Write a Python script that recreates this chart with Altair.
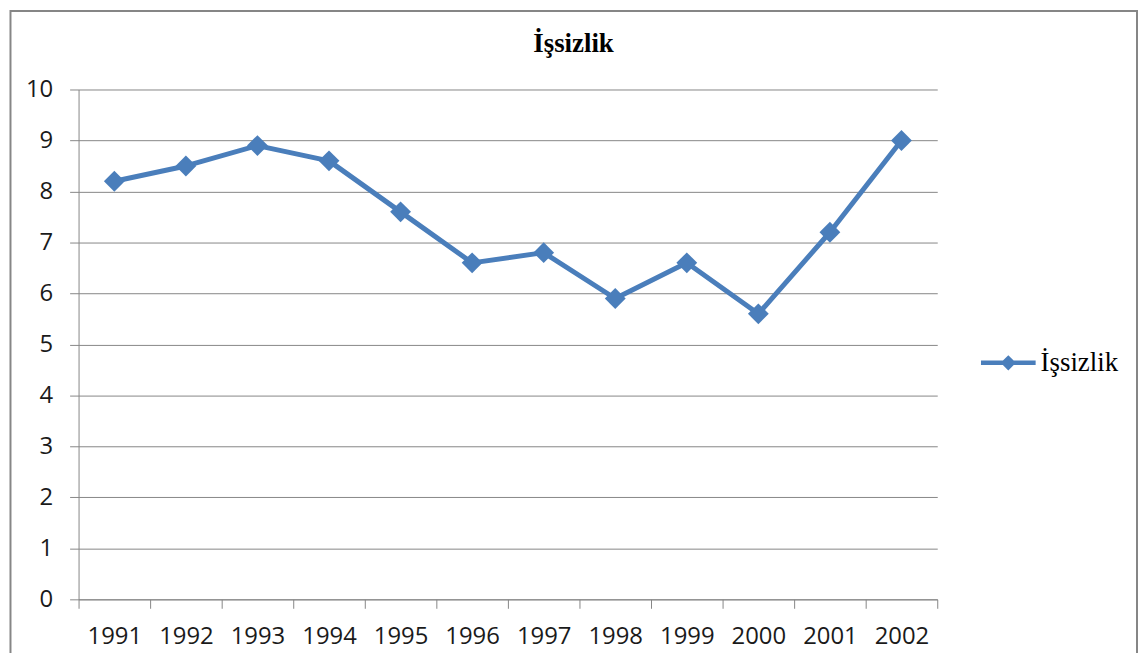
import altair as alt
import pandas as pd

years = ["1991", "1992", "1993", "1994", "1995", "1996",
         "1997", "1998", "1999", "2000", "2001", "2002"]
values = [8.2, 8.5, 8.9, 8.6, 7.6, 6.6, 6.8, 5.9, 6.6, 5.6, 7.2, 9.0]
series_name = "İşsizlik"
chart_title = "İşsizlik"
y_ticks = [0, 1, 2, 3, 4, 5, 6, 7, 8, 9, 10]

df = pd.DataFrame({"year": years, "value": values,
                   "series": [series_name] * len(years)})

BLUE = "#4A7EBB"
GREY = "#868686"
TXT = "#1a1a1a"

legend_path = ("M-1,-0.085L1,-0.085L1,0.085L-1,0.085Z "
               "M-0.28,0L0,-0.28L0.28,0L0,0.28Z")

x = alt.X("year:O", sort=years,
          scale=alt.Scale(type="band", paddingInner=0, paddingOuter=0),
          axis=alt.Axis(title=None, labelAngle=0, tickBand="extent",
                        tickSize=9, tickColor=GREY, domainColor=GREY,
                        labelPadding=16, grid=False, labelFont="Open Sans",
                        labelFontSize=24, labelColor=TXT))
y = alt.Y("value:Q",
          scale=alt.Scale(domain=[0, 10], nice=False, zero=True),
          axis=alt.Axis(title=None, values=y_ticks, tickSize=9,
                        tickColor=GREY, domainColor=GREY, grid=True,
                        gridColor=GREY, gridWidth=1, labelPadding=17,
                        labelFont="Open Sans", labelFontSize=24,
                        labelColor=TXT))

border = alt.Chart(alt.Data(values=[{"b": 1}])).mark_rect(
    fillOpacity=0, stroke=GREY, strokeWidth=2
).encode(x=alt.value(-68.5), x2=alt.value(1065),
         y=alt.value(-79), y2=alt.value(620))

base = alt.Chart(df)
line = base.mark_line(color=BLUE, strokeWidth=5, strokeJoin="round").encode(x=x, y=y)
points = base.mark_point(filled=True, shape="diamond", size=440, opacity=1,
                         color=BLUE).encode(x=x, y=y)
legend_layer = base.mark_point(filled=True, size=0, opacity=1).encode(
    x=x, y=y,
    color=alt.Color("series:N", scale=alt.Scale(range=[BLUE]),
                    legend=alt.Legend(title=None, orient="none",
                                      legendX=908, legendY=247.5,
                                      symbolType=legend_path,
                                      symbolSize=3025, symbolStrokeWidth=0,
                                      labelFont="Liberation Serif",
                                      labelFontSize=27, labelColor="black",
                                      labelOffset=5, padding=0)),
)

chart = alt.layer(border, line, points, legend_layer).properties(
    width=864, height=513,
    autosize=alt.AutoSizeParams(type="none"),
    padding={"left": 71, "top": 80, "right": 202, "bottom": 52},
    title=alt.TitleParams(chart_title, font="Liberation Serif", fontSize=27,
                          fontWeight="bold", color="black", anchor="middle",
                          frame="group", baseline="alphabetic", offset=0,
                          dy=69, dx=66),
).configure_view(stroke=None)

chart.save("out.html", embed_options={"renderer": "svg", "actions": False})
